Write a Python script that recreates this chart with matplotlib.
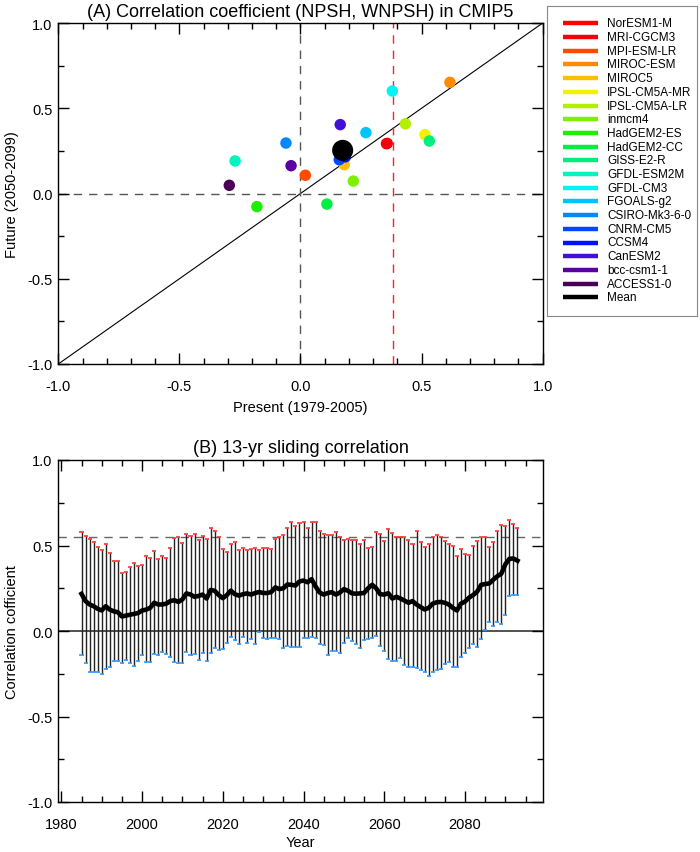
import numpy as np
import matplotlib
matplotlib.use("Agg")
import matplotlib.pyplot as plt
from matplotlib.ticker import MultipleLocator

plt.rcParams['font.family'] = ['Liberation Sans', 'DejaVu Sans']

# ---------------- Panel A data ----------------
models = ["NorESM1-M", "MRI-CGCM3", "MPI-ESM-LR", "MIROC-ESM", "MIROC5",
          "IPSL-CM5A-MR", "IPSL-CM5A-LR", "inmcm4", "HadGEM2-ES", "HadGEM2-CC",
          "GISS-E2-R", "GFDL-ESM2M", "GFDL-CM3", "FGOALS-g2", "CSIRO-Mk3-6-0",
          "CNRM-CM5", "CCSM4", "CanESM2", "bcc-csm1-1", "ACCESS1-0"]
model_colors = ["#ff0000", "#f5000a", "#ff4a00", "#ff8a00", "#ffbe00",
                "#f2f200", "#b0f000", "#7cf000", "#1cf000", "#00f040",
                "#00f080", "#00f5c0", "#00f5f5", "#00c4ff", "#0088ff",
                "#0048ff", "#0010ff", "#4010d8", "#5a00a0", "#4a0055"]
present = [0.358, 0.355, 0.020, 0.617, 0.181,
           0.514, 0.433, 0.218, -0.180, 0.109,
           0.532, -0.270, 0.379, 0.270, -0.060,
           0.160, 0.185, 0.164, -0.039, -0.294]
future = [0.294, 0.292, 0.107, 0.652, 0.169,
          0.345, 0.409, 0.073, -0.077, -0.062,
          0.308, 0.191, 0.601, 0.357, 0.296,
          0.198, 0.215, 0.404, 0.163, 0.048]
mean_present = 0.174
mean_future = 0.253
obs_threshold = 0.38

# ---------------- Panel B data ----------------
years = list(range(1985, 2094))
upper = [0.580, 0.556, 0.537, 0.523, 0.492, 0.475, 0.508, 0.455, 0.407, 0.411,
         0.339, 0.347, 0.372, 0.395, 0.382, 0.386, 0.436, 0.424, 0.467, 0.421,
         0.436, 0.426, 0.488, 0.543, 0.547, 0.514, 0.566, 0.556, 0.568, 0.533,
         0.554, 0.537, 0.605, 0.585, 0.547, 0.481, 0.463, 0.508, 0.519, 0.473,
         0.484, 0.473, 0.481, 0.484, 0.473, 0.488, 0.484, 0.481, 0.537, 0.547,
         0.562, 0.605, 0.640, 0.614, 0.634, 0.638, 0.601, 0.636, 0.636, 0.583,
         0.566, 0.560, 0.560, 0.581, 0.552, 0.535, 0.537, 0.533, 0.533, 0.508,
         0.533, 0.488, 0.490, 0.579, 0.566,
         0.529, 0.595, 0.572, 0.547, 0.552, 0.552, 0.533, 0.510, 0.585, 0.521,
         0.492, 0.508, 0.547, 0.562, 0.552, 0.527, 0.508, 0.496, 0.436, 0.477,
         0.450, 0.444, 0.498, 0.525, 0.548, 0.547, 0.494, 0.523, 0.583, 0.618,
         0.616, 0.649, 0.628, 0.605]
lower = [-0.140, -0.188, -0.238, -0.238, -0.238, -0.254, -0.223, -0.209, -0.178, -0.178,
         -0.190, -0.171, -0.190, -0.203, -0.178, -0.143, -0.180, -0.180, -0.132, -0.140,
         -0.122, -0.132, -0.153, -0.182, -0.190, -0.190, -0.124, -0.143, -0.136, -0.167,
         -0.126, -0.178, -0.130, -0.099, -0.109, -0.107, -0.070, -0.033, -0.050, -0.076,
         -0.037, -0.070, -0.045, -0.076, -0.005, -0.039, -0.045, -0.039, -0.041, -0.048,
         -0.097, -0.087, -0.093, -0.093, -0.091,
         -0.039, -0.039, -0.033, -0.041, -0.076, -0.081, -0.141, -0.116, -0.116, -0.128,
         -0.070, -0.039, -0.058, -0.074, -0.099, -0.052, -0.048, -0.041, -0.029, -0.089,
         -0.118, -0.165, -0.178, -0.178, -0.157, -0.200, -0.209, -0.213, -0.217, -0.227,
         -0.238, -0.264, -0.238, -0.229, -0.221, -0.194, -0.184, -0.213, -0.213, -0.151,
         -0.128, -0.097, -0.074, -0.095, -0.045, 0.004,
         0.054, 0.027, 0.054, 0.039, 0.091, 0.202, 0.211, 0.213]
mean_corr = [0.217, 0.175, 0.155, 0.145, 0.130, 0.120, 0.145, 0.125, 0.115, 0.110,
             0.085, 0.090, 0.095, 0.100, 0.105, 0.120, 0.125, 0.135, 0.165, 0.155,
             0.155, 0.160, 0.175, 0.180, 0.170, 0.185, 0.220, 0.213, 0.200, 0.205,
             0.213, 0.190, 0.240, 0.235, 0.210, 0.192, 0.210, 0.236, 0.215, 0.207,
             0.215, 0.220, 0.213, 0.222, 0.228, 0.222, 0.222, 0.228, 0.255, 0.245,
             0.250, 0.272, 0.270, 0.266, 0.290, 0.295, 0.285, 0.303, 0.260, 0.225,
             0.213, 0.222, 0.227, 0.213, 0.225, 0.245, 0.235, 0.220, 0.218, 0.220,
             0.222, 0.250, 0.270, 0.250, 0.215, 0.213, 0.221, 0.190, 0.200, 0.190,
             0.178, 0.165, 0.175, 0.155, 0.140, 0.126, 0.135, 0.160, 0.168, 0.170,
             0.165, 0.155, 0.135, 0.120, 0.160, 0.172, 0.195, 0.210, 0.230, 0.270,
             0.275, 0.278, 0.300, 0.320, 0.335, 0.390, 0.422, 0.424, 0.411]
ref_level = 0.55

# ---------------- Figure ----------------
W, H = 700, 853
fig = plt.figure(figsize=(W / 100, H / 100), dpi=100)

axA = fig.add_axes([58.3 / W, 1 - 365 / H, 484.4 / W, 341 / H])
axB = fig.add_axes([58.3 / W, 1 - 803 / H, 484.4 / W, 342 / H])

tick_fs = 10.5
for ax in (axA, axB):
    ax.tick_params(which='both', direction='in', top=True, right=True,
                   labelsize=tick_fs, width=1.0)
    ax.tick_params(axis='x', which='both', pad=11)
    ax.tick_params(axis='y', which='both', pad=4)
    ax.tick_params(which='major', length=8)
    ax.tick_params(which='minor', length=4)
    for s in ax.spines.values():
        s.set_linewidth(1.0)

fmt1 = plt.FuncFormatter(lambda v, p: f"{v:.1f}")

# Panel A
axA.set_xlim(-1, 1)
axA.set_ylim(-1, 1)
axA.plot([-1, 1], [-1, 1], color='black', lw=0.8, zorder=1)
axA.axvline(0, color='#555555', lw=1.0, ls=(0, (6, 5)), zorder=1)
axA.axhline(0, color='#555555', lw=1.0, ls=(0, (6, 5)), zorder=1)
axA.axvline(obs_threshold, color='#ff2020', lw=1.0, ls=(0, (6, 5)), zorder=1)
axA.scatter(present, future, s=68, c=model_colors, edgecolors='none', zorder=3)
axA.scatter([mean_present], [mean_future], s=230, c='black', edgecolors='none', zorder=4)
axA.xaxis.set_major_locator(MultipleLocator(0.5))
axA.xaxis.set_minor_locator(MultipleLocator(0.1))
axA.yaxis.set_major_locator(MultipleLocator(0.5))
axA.yaxis.set_minor_locator(MultipleLocator(0.25))
axA.xaxis.set_major_formatter(fmt1)
axA.yaxis.set_major_formatter(fmt1)
axA.set_xlabel("Present (1979-2005)", fontsize=10.5, labelpad=5)
axA.set_ylabel("Future (2050-2099)", fontsize=10.5, labelpad=6)
axA.set_title("(A) Correlation coefficient (NPSH, WNPSH) in CMIP5", fontsize=13, pad=5)

# Legend (drawn in its own box, pixel coordinates)
lx0, ly0, lw_, lh_ = 547, 7, 150, 310
axL = fig.add_axes([lx0 / W, 1 - (ly0 + lh_) / H, lw_ / W, lh_ / H])
axL.set_xlim(0, lw_)
axL.set_ylim(lh_, 0)
axL.set_xticks([])
axL.set_yticks([])
for s in axL.spines.values():
    s.set_color('#888888')
    s.set_linewidth(0.8)
leg_labels = models + ["Mean"]
leg_colors = model_colors + ["black"]
row0, drow = 17.3, 13.7
for i, (lab, col) in enumerate(zip(leg_labels, leg_colors)):
    yy = row0 + i * drow
    axL.plot([16, 51], [yy, yy], color=col, lw=3.2, solid_capstyle='butt')
    axL.text(60, yy, lab, fontsize=8.5, va='center', ha='left')

# Panel B
yrs = np.array(years)
axB.set_xlim(1979.25, 2099.25)
axB.set_ylim(-1, 1)
axB.axhline(0, color='#444444', lw=1.3, zorder=1)
axB.axhline(ref_level, color='#666666', lw=1.0, ls=(0, (6, 5)), zorder=1)
axB.vlines(yrs, lower, upper, color='#222222', lw=1.0, zorder=2)
axB.hlines(upper, yrs - 0.5, yrs + 0.5, color='#ff3030', lw=1.2, zorder=3)
axB.hlines(lower, yrs - 0.5, yrs + 0.5, color='#3399ff', lw=1.2, zorder=3)
axB.plot(yrs, mean_corr, color='black', lw=3.3, zorder=4)
axB.xaxis.set_major_locator(MultipleLocator(20))
axB.xaxis.set_minor_locator(MultipleLocator(5))
axB.yaxis.set_major_locator(MultipleLocator(0.5))
axB.yaxis.set_minor_locator(MultipleLocator(0.25))
axB.yaxis.set_major_formatter(fmt1)
axB.set_xlabel("Year", fontsize=10.5, labelpad=3)
axB.set_ylabel("Correlation cofficient", fontsize=10.5, labelpad=6)
axB.set_title("(B) 13-yr sliding correlation", fontsize=13, pad=6)

fig.savefig("out.png", dpi=100)
